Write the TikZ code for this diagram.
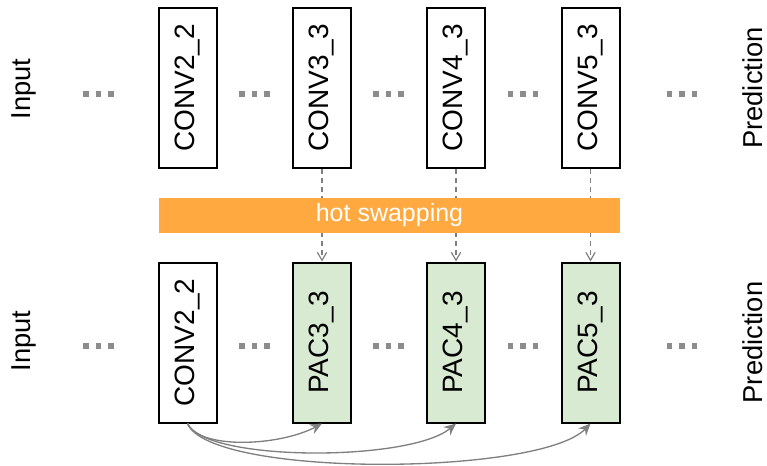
\documentclass[tikz,border=0pt]{standalone}
\usepackage{fontspec}
\setmainfont{Liberation Sans}
\usetikzlibrary{arrows.meta}
\definecolor{swaporange}{HTML}{FFA940}
\definecolor{pacgreen}{HTML}{D9EAD3}
\definecolor{linkgray}{HTML}{808080}
\definecolor{dotgray}{HTML}{8C8C8C}
\tikzset{
  layer/.style={draw=black, line width=1.5pt, rotate=90, inner sep=0pt,
    minimum width=120pt, minimum height=43.5pt,
    font=\fontsize{21}{25}\selectfont},
  paclayer/.style={layer, fill=pacgreen},
  sidetext/.style={rotate=90, inner sep=0pt, font=\fontsize{20.5}{24}\selectfont},
  swapbar/.style={fill=swaporange, inner sep=0pt, minimum width=345.75pt,
    minimum height=26.25pt, text=white, font=\fontsize{18.75}{22}\selectfont},
  swaplink/.style={draw=linkgray, line width=0.9pt, dash pattern=on 3.75pt off 3pt,
    -{Straight Barb[length=6pt,width=7pt,line width=0.9pt]}},
  skiplink/.style={draw=linkgray, line width=1pt,
    -{Stealth[length=9pt,width=8pt,inset=3pt]}},
  pics/gap/.style={code={
    \foreach \k in {-1,0,1}
      \fill[dotgray] ({\k*12.5-2.75},-2.75) rectangle ++(5.5,5.5);
  }}
}
\begin{document}
\begin{tikzpicture}[x=0.75pt,y=-0.75pt]
\useasboundingbox (0,0) rectangle (767,465);

% original network (top row); rotated nodes: east = top edge, west = bottom edge
\node[sidetext] (in1) at (24,89) {Input};
\node[sidetext] (pr1) at (753,88) {Prediction};
\node[layer] (c22) at (187.5,88) {CONV2\_2};
\node[layer] (c33) at (322,88) {CONV3\_3};
\node[layer] (c43) at (456,88) {CONV4\_3};
\node[layer] (c53) at (590.5,88) {CONV5\_3};
\pic at (98.5,94) {gap};
\pic at (254.5,94) {gap};
\pic at (388.5,94) {gap};
\pic at (523,94) {gap};
\pic at (682,94) {gap};

% swapped network (bottom row)
\node[sidetext] (in2) at (24,341) {Input};
\node[sidetext] (pr2) at (753,342.5) {Prediction};
\node[layer] (b22) at (187.5,342.5) {CONV2\_2};
\node[paclayer] (p33) at (322,342.5) {PAC3\_3};
\node[paclayer] (p43) at (456,342.5) {PAC4\_3};
\node[paclayer] (p53) at (590.5,342.5) {PAC5\_3};
\pic at (98.5,346) {gap};
\pic at (254.5,346) {gap};
\pic at (388.5,346) {gap};
\pic at (523,346) {gap};
\pic at (682,346) {gap};

% replacement links, partly covered by the bar
\draw[swaplink] (c33.west) -- (p33.east);
\draw[swaplink] (c43.west) -- (p43.east);
\draw[swaplink] (c53.west) -- (p53.east);
\node[swapbar] (hs) at (389.5,215.5) {hot swapping};

% skip connections from CONV2_2
\draw[skiplink] (b22.west) .. controls (200,450) and (280,446) .. (p33.west);
\draw[skiplink] (b22.west) .. controls (205,462) and (410,462) .. (p43.west);
\draw[skiplink] (b22.west) .. controls (210,478) and (540,476) .. (p53.west);
\end{tikzpicture}
\end{document}
